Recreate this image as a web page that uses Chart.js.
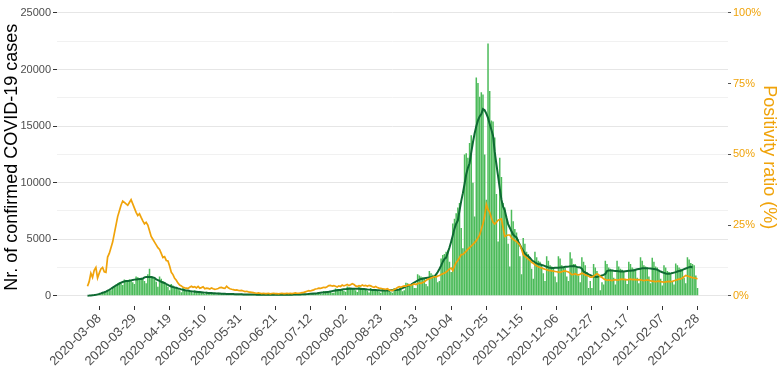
<!DOCTYPE html>
<html><head><meta charset="utf-8">
<script src="https://cdn.jsdelivr.net/npm/chart.js@4"></script>
<style>html,body{margin:0;padding:0;background:#fff}canvas{display:block}</style>
</head><body>
<canvas id="c" width="778" height="373"></canvas>
<script>
// ---- data ----
const startDate = '2020-03-01';
const tickLabels = ['2020-03-08','2020-03-29','2020-04-19','2020-05-10','2020-05-31','2020-06-21','2020-07-12','2020-08-02','2020-08-23','2020-09-13','2020-10-04','2020-10-25','2020-11-15','2020-12-06','2020-12-27','2021-01-17','2021-02-07','2021-02-28'];
// daily confirmed cases, one row per week (Sun..Sat)
const cases = [
  0, 5, 15, 30, 60, 90, 110,
  120, 200, 260, 320, 400, 480, 420,
  500, 750, 850, 950, 1100, 1200, 1100,
  950, 1450, 1400, 1350, 1450, 1400, 1200,
  1050, 1700, 1650, 1550, 1600, 1550, 1300,
  1100, 1900, 2400, 1750, 1700, 1500, 1250,
  800, 1700, 1500, 1300, 1150, 1000, 800,
  500, 1050, 900, 800, 700, 650, 500,
  320, 700, 600, 500, 450, 420, 350,
  220, 480, 420, 360, 320, 300, 250,
  160, 350, 310, 270, 240, 220, 180,
  110, 270, 240, 200, 180, 170, 140,
  90, 210, 180, 160, 150, 140, 110,
  70, 170, 150, 130, 120, 110, 90,
  60, 140, 130, 110, 100, 95, 75,
  50, 120, 110, 100, 95, 90, 70,
  55, 125, 115, 100, 95, 90, 70,
  60, 140, 125, 110, 105, 100, 80,
  70, 180, 160, 140, 135, 130, 100,
  110, 260, 250, 220, 230, 220, 170,
  180, 420, 400, 360, 370, 360, 280,
  280, 650, 600, 560, 550, 520, 420,
  350, 830, 760, 700, 680, 640, 480,
  340, 820, 740, 660, 630, 580, 450,
  300, 690, 610, 560, 520, 500, 380,
  260, 620, 560, 510, 480, 460, 340,
  280, 700, 640, 590, 560, 550, 410,
  480, 1150, 1100, 1050, 1050, 1000, 700,
  700, 1900, 1800, 1700, 1650, 1550, 1050,
  850, 2200, 2000, 1850, 1800, 1700, 1200,
  1300, 3300, 3600, 3700, 3900, 4000, 3000,
  2100, 6400, 6800, 7300, 7800, 8200, 6000,
  4200, 12500, 12600, 12200, 13500, 14200, 10000,
  7000, 19300, 18800, 17600, 18000, 17800, 12500,
  8500, 22300, 18100, 15500, 15400, 14000, 9000,
  4800, 12200, 10500, 8200, 7800, 7000, 4600,
  2600, 7600, 6600, 5900, 5600, 5000, 3500,
  1900, 5100, 4600, 3900, 3700, 3400, 2400,
  1500, 3900, 3400, 3100, 3000, 2800, 2000,
  1300, 3500, 3100, 2700, 2600, 2400, 1700,
  1200, 3500, 3300, 2700, 2600, 2500, 1700,
  1300, 3850, 3300, 2800, 2800, 2600, 1800,
  1200, 3400, 3000, 2700, 2100, 700, 1300,
  700, 2800, 2500, 2200, 1800, 500, 1200,
  1000, 3100, 2800, 2500, 2400, 2300, 1600,
  1000, 3100, 2600, 2400, 2300, 2200, 1500,
  1050, 3000, 2800, 2500, 2400, 2300, 1600,
  1100, 3400, 3100, 2700, 2600, 2500, 1700,
  1100, 3370, 3000, 2600, 2500, 2300, 1500,
  900, 2700, 2500, 2200, 2100, 1900, 1300,
  1000, 2850, 2700, 2500, 2400, 2300, 1600,
  1100, 3400, 3200, 2900, 2800, 2700, 1800,
  700
];
// daily positivity ratio (%), one row per week (Sun..Sat)
const positivity = [
  3.4, 5.0, 8.0, 6.5, 9.0, 10.0, 6.3,
  8.0, 9.5, 10.0, 8.5, 8.3, 13.7, 15.0,
  17.0, 19.0, 22.0, 25.0, 28.0, 30.0, 32.0,
  33.5, 33.0, 32.5, 32.0, 33.0, 34.0, 32.5,
  31.0, 29.5, 28.4, 29.0, 27.7, 26.5, 25.4,
  26.0, 25.0, 23.0, 21.0, 20.0, 19.0, 18.0,
  17.0, 16.4, 15.0, 13.5, 13.8, 12.5, 12.3,
  10.5, 8.3, 7.5, 6.2, 5.5, 4.5, 3.8,
  3.5, 3.0, 2.8, 2.7, 2.6, 3.0, 3.4,
  3.0, 3.2, 2.8, 3.3, 2.7, 2.9, 3.2,
  2.5, 2.7, 2.6, 2.4, 2.8, 2.5, 2.3,
  2.4, 2.6, 2.9, 3.0, 2.7, 2.6, 3.4,
  2.8, 2.5, 2.3, 2.2, 2.0, 2.1, 1.9,
  1.8, 1.9, 1.7, 1.5, 1.6, 1.4, 1.3,
  1.2, 1.1, 1.0, 0.9, 1.0, 0.9, 0.8,
  0.9, 0.8, 0.8, 0.9, 0.7, 0.8, 0.9,
  0.8, 0.8, 0.7, 0.8, 0.9, 0.8, 0.8,
  0.9, 0.8, 0.9, 0.8, 0.9, 1.0, 0.9,
  0.9, 1.0, 1.1, 1.2, 1.4, 1.6, 1.8,
  1.7, 1.9, 2.1, 2.4, 2.5, 2.7, 2.6,
  2.8, 3.0, 2.9, 3.2, 3.6, 3.7, 3.4,
  3.6, 3.4, 3.1, 3.5, 3.3, 3.8, 3.5,
  3.7, 4.0, 3.6, 3.9, 4.3, 4.0, 3.5,
  3.3, 3.6, 3.4, 3.8, 3.5, 3.7, 3.4,
  3.7, 3.5, 3.2, 3.0, 3.3, 2.9, 2.7,
  2.6, 2.5, 2.4, 2.3, 2.5, 2.1, 1.9,
  1.8, 2.2, 2.5, 2.9, 3.2, 3.0, 3.3,
  3.5, 3.4, 3.7, 3.9, 3.6, 4.0, 4.2,
  4.0, 4.3, 4.5, 4.4, 4.7, 5.0, 5.4,
  5.8, 6.0, 6.3, 6.5, 6.8, 6.6, 7.0,
  7.2, 7.5, 7.8, 8.0, 8.4, 8.9, 9.5,
  9.8, 8.9, 10.5, 11.8, 12.5, 13.5, 14.6,
  14.6, 15.2, 15.8, 16.5, 17.0, 17.6, 18.2,
  18.8, 19.5, 20.5, 21.5, 23.5, 25.5, 28.3,
  32.3, 30.5, 29.5, 27.5, 26.0, 25.4, 26.0,
  26.7, 27.0, 27.2, 24.0, 21.0, 21.3, 21.5,
  21.5, 20.5, 20.0, 19.5, 19.2, 18.5, 18.0,
  16.5, 14.6, 14.0, 13.5, 13.0, 12.5, 11.8,
  11.5, 11.0, 10.6, 10.3, 10.0, 9.9, 9.6,
  9.4, 9.2, 9.0, 8.9, 8.8, 8.7, 8.6,
  8.5, 8.4, 8.3, 8.5, 8.7, 8.8, 8.6,
  8.4, 8.0, 7.5, 7.6, 7.8, 7.5, 7.4,
  7.6, 8.0, 7.8, 7.4, 7.2, 7.0, 6.6,
  6.6, 6.9, 7.4, 7.8, 7.5, 6.8, 6.5,
  6.0, 5.7, 5.5, 5.6, 5.5, 5.4, 5.6,
  5.7, 5.5, 5.6, 5.8, 5.9, 5.8, 5.7,
  5.6, 5.8, 5.9, 5.7, 5.8, 5.7, 5.6,
  5.7, 5.6, 5.5, 5.4, 5.5, 5.6, 5.5,
  5.3, 5.2, 5.1, 5.0, 5.1, 5.2, 5.0,
  4.9, 4.8, 4.9, 5.0, 5.1, 5.0, 5.1,
  5.3, 5.5, 5.7, 5.9, 6.0, 6.3, 6.8,
  7.2, 7.0, 6.8, 6.6, 6.4, 6.3, 6.2,
  6.0
];
const casesTicks = [0, 5000, 10000, 15000, 20000, 25000];
const casesMinorTicks = [2500, 7500, 12500, 17500, 22500];
const ratioTicks = [0, 25, 50, 75, 100];

// ---- derived tables ----
const dates = [];
const t0 = Date.parse(startDate + 'T00:00:00Z');
for (let i = 0; i < cases.length; i++) dates.push(new Date(t0 + i * 86400000).toISOString().slice(0, 10));
// centered 7-day average of the daily cases (last 3 days have no full window)
const movingAvg = [];
for (let i = 0; i < cases.length - 3; i++) {
  let s = 0;
  for (let k = -3; k <= 3; k++) { const j = i + k; s += j >= 0 ? cases[j] : 0; }
  movingAvg.push({ x: i, y: s / 7 });
}
const gridTicks = casesTicks.concat(casesMinorTicks).sort((a, b) => a - b);

const FONT = "'Liberation Sans', Arial, Helvetica, sans-serif";
const ORANGE = '#f0a30a';

new Chart(document.getElementById('c'), {
  data: {
    datasets: [
      { type: 'bar', data: cases.map((v, i) => ({ x: i, y: v })), backgroundColor: '#4cbb5a',
        barPercentage: 0.9, categoryPercentage: 1, yAxisID: 'y', order: 3 },
      { type: 'line', data: movingAvg, borderColor: '#0e6a33', borderWidth: 2, pointRadius: 0,
        tension: 0, yAxisID: 'y', order: 2 },
      { type: 'line', data: positivity.map((v, i) => ({ x: i, y: v })), borderColor: ORANGE, borderWidth: 1.7,
        pointRadius: 0, tension: 0, yAxisID: 'y2', order: 1 }
    ]
  },
  options: {
    responsive: false, animation: false, devicePixelRatio: 1,
    layout: { padding: 0 },
    plugins: { legend: { display: false }, tooltip: { enabled: false } },
    scales: {
      x: {
        type: 'linear', position: 'bottom', min: -18.2, max: 382.2, offset: false,
        afterBuildTicks: s => { s.ticks = tickLabels.map(l => ({ value: dates.indexOf(l) })); },
        afterFit: s => { s.height = 67; },
        border: { display: false },
        grid: { drawOnChartArea: false, offset: false, drawTicks: true, tickLength: 4, tickColor: '#333' },
        ticks: { autoSkip: false, minRotation: 45, maxRotation: 45, padding: 1, color: '#4d4d4d',
          font: { family: FONT, size: 13 }, callback: (v, i) => tickLabels[i] }
      },
      y: {
        type: 'linear', position: 'left', min: -902, max: 25387,
        afterBuildTicks: s => { s.ticks = gridTicks.map(v => ({ value: v })); },
        afterFit: s => { s.width = 57; },
        border: { display: false },
        grid: { color: c => (c.tick && c.tick.value % 5000 === 0) ? '#e6e6e6' : '#f1f1f1', lineWidth: 1,
          drawTicks: true, tickLength: 4,
          tickColor: c => (c.tick && c.tick.value % 5000 === 0) ? '#333' : 'rgba(0,0,0,0)' },
        ticks: { autoSkip: false, padding: 2, color: '#4d4d4d', font: { family: FONT, size: 11 },
          callback: v => (v % 5000 === 0 ? String(v) : '') },
        title: { display: true, text: 'Nr. of confirmed COVID-19 cases', color: '#000',
          font: { family: FONT, size: 18, lineHeight: 1 }, padding: { top: 3.5, bottom: 0 } }
      },
      y2: {
        type: 'linear', position: 'right', min: -3.608, max: 101.546,
        afterBuildTicks: s => { s.ticks = ratioTicks.map(v => ({ value: v })); },
        afterFit: s => { s.width = 50; },
        border: { display: false },
        grid: { drawOnChartArea: false, drawTicks: true, tickLength: 3, tickColor: '#555' },
        ticks: { autoSkip: false, padding: 2, color: ORANGE, font: { family: FONT, size: 11 },
          callback: v => v + '%' },
        title: { display: true, text: 'Positivity ratio (%)', color: ORANGE,
          font: { family: FONT, size: 18, lineHeight: 1 }, padding: { top: 0, bottom: 0 } }
      }
    }
  }
});
</script>
</body></html>
